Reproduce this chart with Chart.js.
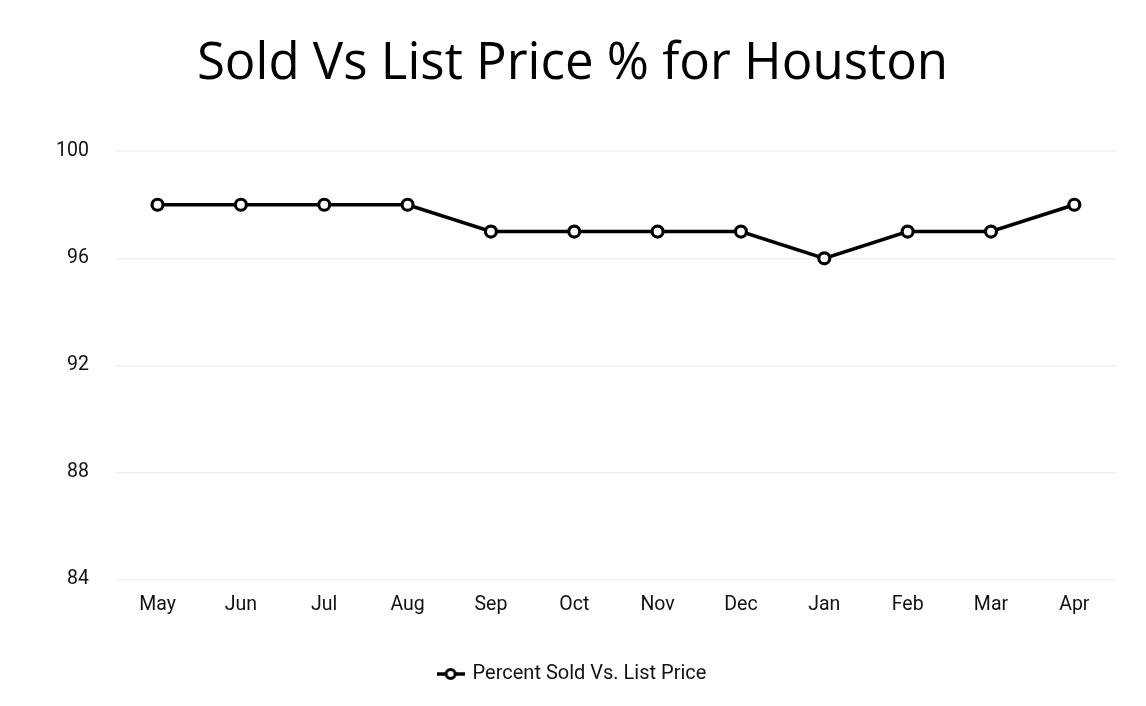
<!DOCTYPE html>
<html>
<head>
<meta charset="utf-8">
<script src="https://cdn.jsdelivr.net/npm/chart.js@4.4.0/dist/chart.umd.min.js"></script>
<style>
html,body{margin:0;padding:0;background:#fff;}
#wrap{width:1146px;height:706px;}
</style>
</head>
<body>
<div id="wrap"><canvas id="c" width="1146" height="706"></canvas></div>
<script>
const months = ["May","Jun","Jul","Aug","Sep","Oct","Nov","Dec","Jan","Feb","Mar","Apr"];
const soldVsList = [98,98,98,98,97,97,97,97,96,97,97,98];
const yTicks = [84,88,92,96,100];
const seriesName = "Percent Sold Vs. List Price";
const titleText = "Sold Vs List Price % for Houston";

// legend marker: line with hollow circle
const mk = document.createElement('canvas');
mk.width = 28; mk.height = 14;
(function(){
  const g = mk.getContext('2d');
  g.strokeStyle = '#000'; g.lineWidth = 3.5;
  g.beginPath(); g.moveTo(0,7); g.lineTo(28,7); g.stroke();
  g.fillStyle = '#fff'; g.lineWidth = 3;
  g.beginPath(); g.arc(14,7,4.5,0,Math.PI*2); g.fill(); g.stroke();
})();

new Chart(document.getElementById('c'), {
  type: 'line',
  data: {
    labels: months,
    datasets: [{
      label: seriesName,
      data: soldVsList,
      borderColor: '#000',
      borderWidth: 3.5,
      backgroundColor: '#fff',
      pointBackgroundColor: '#fff',
      pointBorderColor: '#000',
      pointBorderWidth: 3.2,
      pointRadius: 5.5,
      tension: 0,
      fill: false
    }]
  },
  options: {
    responsive: false,
    animation: false,
    layout: { padding: { left: 29, right: 30, top: 34, bottom: 12 } },
    plugins: {
      title: {
        display: true,
        text: titleText,
        color: '#000',
        font: { family: 'Open Sans', size: 51, weight: 'normal' },
        padding: { top: 0, bottom: 56 }
      },
      legend: {
        position: 'bottom',
        labels: {
          color: '#111',
          font: { family: 'Roboto', size: 20 },
          usePointStyle: true,
          pointStyleWidth: 24,
          padding: 26,
          generateLabels: (chart) => chart.data.datasets.map((d, i) => ({
            text: d.label,
            pointStyle: mk,
            fillStyle: '#fff',
            strokeStyle: '#000',
            lineWidth: 0,
            fontColor: '#111',
            datasetIndex: i,
            hidden: false
          }))
        }
      },
      tooltip: { enabled: false }
    },
    scales: {
      x: {
        offset: true,
        grid: { display: false },
        border: { display: false },
        afterFit: (s) => { s.height += 15; },
        ticks: { color: '#111', font: { family: 'Roboto', size: 19.5 }, padding: 6 }
      },
      y: {
        min: 84, max: 100,
        afterBuildTicks: (s) => { s.ticks = yTicks.map(v => ({ value: v })); },
        grid: { color: '#efefef', lineWidth: 1.5, drawTicks: false },
        border: { display: false },
        ticks: { color: '#111', font: { family: 'Roboto', size: 19.5 }, padding: 27 }
      }
    }
  }
});
</script>
</body>
</html>
